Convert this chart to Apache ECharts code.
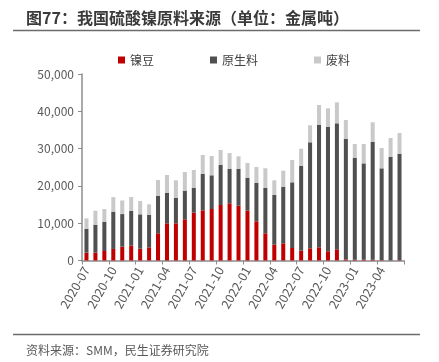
<!DOCTYPE html>
<html>
<head>
<meta charset="utf-8">
<script src="https://cdn.jsdelivr.net/npm/echarts@6/dist/echarts.min.js"></script>
<style>html,body{margin:0;padding:0;background:#fff}#c{width:439px;height:362px}</style>
</head>
<body>
<div id="c"></div>
<script>
var categories = ['2020-07','2020-08','2020-09','2020-10','2020-11','2020-12','2021-01','2021-02','2021-03','2021-04','2021-05','2021-06','2021-07','2021-08','2021-09','2021-10','2021-11','2021-12','2022-01','2022-02','2022-03','2022-04','2022-05','2022-06','2022-07','2022-08','2022-09','2022-10','2022-11','2022-12','2023-01','2023-02','2023-03','2023-04','2023-05','2023-06'];
var nickelBeans = [2100,2100,2550,3100,3700,3970,3170,3530,7300,9970,9970,11040,12820,13450,13800,14880,15330,14690,13350,10510,7290,4240,4610,3350,2630,3270,3540,2470,3000,300,200,200,200,100,0,100];
var primary = [6350,7500,7850,10000,8750,9300,9210,8750,10080,8210,6870,7680,6700,9740,9040,10800,9280,9840,8850,10350,12150,13320,15180,17610,22780,28420,32870,33320,33780,32270,27360,25840,31650,24610,27750,28530];
var scrap = [2850,3750,3400,3900,3650,3730,3570,2780,4200,4740,4660,5010,4740,5090,5170,3940,4210,3400,3940,4210,5280,3940,4290,5980,4560,4560,5280,5010,5630,5100,3670,5190,5200,5450,5090,5550];
var yTicks = [0,10000,20000,30000,40000,50000];

var chart = echarts.init(document.getElementById('c'), null, {renderer:'canvas'});
var FONT = '"Noto Sans CJK SC","Noto Sans",sans-serif';
chart.setOption({
  animation:false,
  backgroundColor:'#fff',
  title:[
    {text:'图77：我国硫酸镍原料来源（单位：金属吨）', left:21, top:5,
     textStyle:{fontSize:16, fontWeight:'bold', color:'#3a3a3a', fontFamily:FONT}},
    {text:'资料来源：SMM，民生证券研究院', left:21, top:339,
     textStyle:{fontSize:12, fontWeight:'normal', color:'#595959', fontFamily:FONT}}
  ],
  graphic:[
    {type:'line', shape:{x1:13,y1:30.5,x2:420,y2:30.5}, style:{stroke:'#6b6b6b', lineWidth:1.5}},
    {type:'line', shape:{x1:13,y1:334.5,x2:420,y2:334.5}, style:{stroke:'#6b6b6b', lineWidth:1.5}}
  ],
  legend:{
    left:113, top:49, itemWidth:7, itemHeight:7, itemGap:56, icon:'rect',
    textStyle:{fontSize:12, color:'#404040', fontFamily:FONT},
    data:['镍豆','原生料','废料']
  },
  grid:{left:82, right:35, top:74, bottom:101.5, containLabel:false},
  xAxis:{
    type:'category', data:categories, boundaryGap:true,
    axisLine:{lineStyle:{color:'#8c8c8c', width:1.5}},
    axisTick:{show:true, interval:2, length:4, lineStyle:{color:'#8c8c8c'}},
    axisLabel:{interval:2, rotate:60, fontSize:12.5, color:'#595959', margin:7, fontFamily:FONT}
  },
  yAxis:{
    type:'value', min:0, max:50000, interval:10000,
    splitLine:{show:false},
    axisLine:{show:true, lineStyle:{color:'#8c8c8c', width:1.5}},
    axisTick:{show:true, length:4, lineStyle:{color:'#8c8c8c'}},
    axisLabel:{fontSize:12, color:'#595959', margin:8, fontFamily:FONT,
      formatter:function(v){return v.toLocaleString('en-US');}}
  },
  series:[
    {name:'镍豆', type:'bar', stack:'a', data:nickelBeans, barWidth:'45%', itemStyle:{color:'#C00000'}},
    {name:'原生料', type:'bar', stack:'a', data:primary, itemStyle:{color:'#505050'}},
    {name:'废料', type:'bar', stack:'a', data:scrap, itemStyle:{color:'#C9C9C9'}}
  ]
});
</script>
</body>
</html>
